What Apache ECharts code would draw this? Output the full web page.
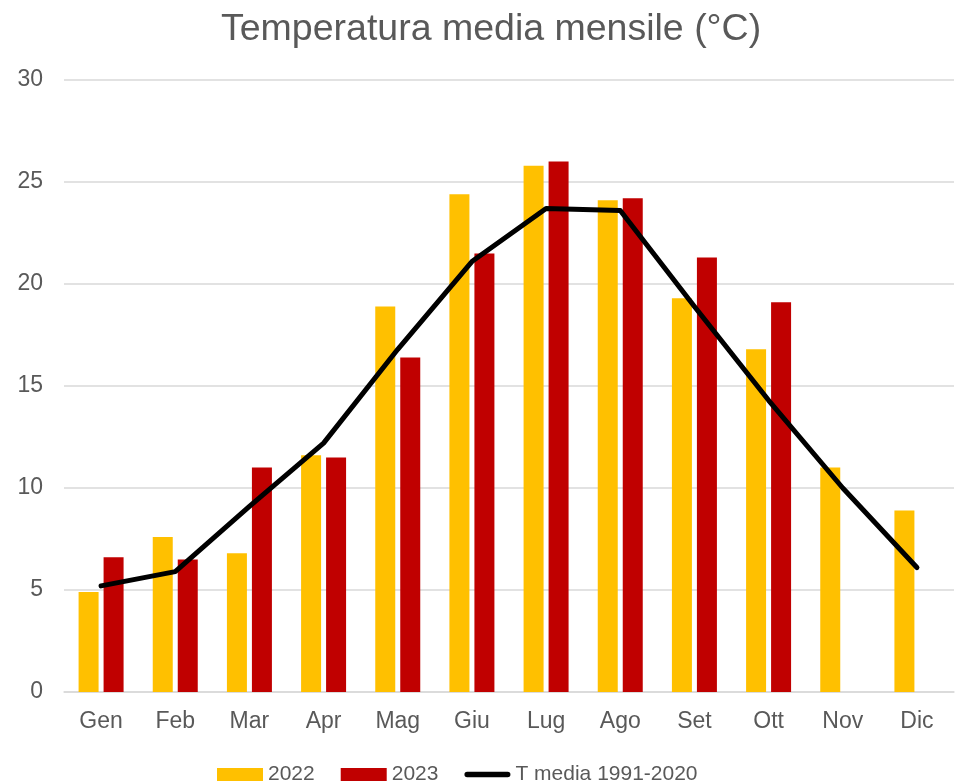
<!DOCTYPE html>
<html>
<head>
<meta charset="utf-8">
<script src="https://cdn.jsdelivr.net/npm/echarts@6/dist/echarts.min.js"></script>
<style>
    html, body { margin: 0; padding: 0; background: #fff; }
    #chart { width: 955px; height: 781px; }
</style>
</head>
<body>
<div id="chart"></div>
<script>
// dati temperature mensili
var mesi = ['Gen', 'Feb', 'Mar', 'Apr', 'Mag', 'Giu', 'Lug', 'Ago', 'Set', 'Ott', 'Nov', 'Dic'];
var temp2022 = [4.9, 7.6, 6.8, 11.6, 18.9, 24.4, 25.8, 24.1, 19.3, 16.8, 11.0, 8.9];
var temp2023 = [6.6, 6.5, 11.0, 11.5, 16.4, 21.5, 26.0, 24.2, 21.3, 19.1, null, null];
var tMedia = [5.2, 5.9, 9.1, 12.2, 16.8, 21.1, 23.7, 23.6, 18.9, 14.3, 10.0, 6.1];
var nomiSerie = ['2022', '2023', 'T media 1991-2020'];

var grigio = '#595959';
var font = 'Liberation Sans, Arial, sans-serif';
// linea spessa con estremi arrotondati per la legenda
var iconaLinea = 'path://M3,0 L47,0 A3,3 0 0 1 47,6 L3,6 A3,3 0 0 1 3,0 Z';

var myChart = echarts.init(document.getElementById('chart'));
var option = {
    animation: false,
    title: {
        text: 'Temperatura media mensile (°C)',
        left: 221,
        top: 11,
        padding: 0,
        textStyle: {
            color: grigio,
            fontSize: 37.5,
            fontWeight: 'normal',
            fontFamily: font
        }
    },
    legend: {
        left: 217,
        top: 764,
        padding: 0,
        itemWidth: 46,
        itemHeight: 13,
        itemGap: 26,
        textStyle: {
            color: grigio,
            fontSize: 21,
            fontFamily: font
        },
        data: [
            { name: nomiSerie[0], icon: 'rect' },
            { name: nomiSerie[1], icon: 'rect' },
            { name: nomiSerie[2], icon: iconaLinea }
        ]
    },
    grid: {
        left: 64,
        right: 1,
        top: 80,
        bottom: 89
    },
    xAxis: {
        type: 'category',
        data: mesi,
        axisTick: { show: false },
        axisLine: { lineStyle: { color: '#d9d9d9', width: 1.5 } },
        axisLabel: {
            color: grigio,
            fontSize: 23,
            fontFamily: font,
            margin: 18
        }
    },
    yAxis: {
        type: 'value',
        min: 0,
        max: 30,
        interval: 5,
        axisLine: { show: false },
        axisTick: { show: false },
        splitLine: { lineStyle: { color: '#d9d9d9', width: 1.5 } },
        axisLabel: {
            color: grigio,
            fontSize: 23,
            fontFamily: font,
            margin: 21
        }
    },
    series: [
        {
            name: nomiSerie[0],
            type: 'bar',
            data: temp2022,
            barWidth: 20,
            barGap: '25%',
            itemStyle: { color: '#ffc000' }
        },
        {
            name: nomiSerie[1],
            type: 'bar',
            data: temp2023,
            barWidth: 20,
            barGap: '25%',
            itemStyle: { color: '#c00000' }
        },
        {
            name: nomiSerie[2],
            type: 'line',
            data: tMedia,
            symbol: 'none',
            itemStyle: { color: '#000' },
            lineStyle: { color: '#000', width: 5, cap: 'round', join: 'round' }
        }
    ]
};
myChart.setOption(option);
</script>
</body>
</html>
